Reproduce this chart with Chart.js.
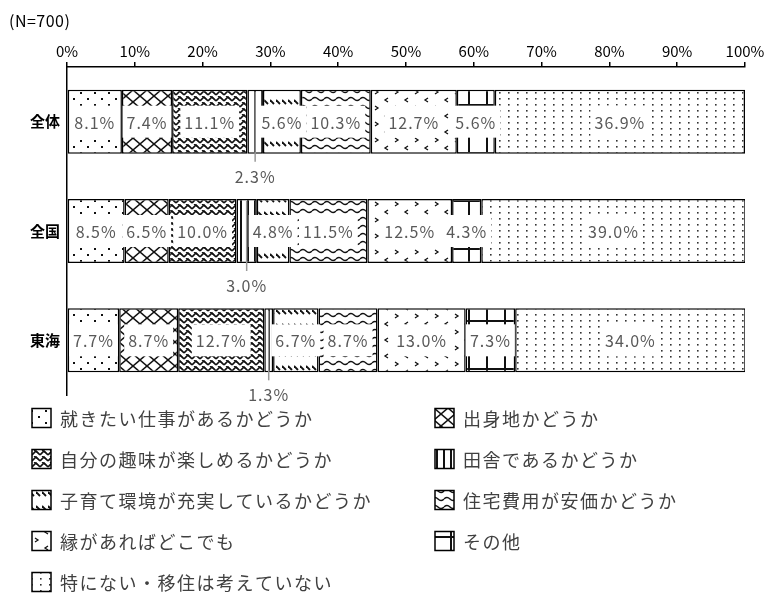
<!DOCTYPE html>
<html>
<head>
<meta charset="utf-8">
<script src="https://cdn.jsdelivr.net/npm/chart.js@4.4.1/dist/chart.umd.min.js"></script>
<style>
  html, body { margin: 0; padding: 0; background: #fff; }
</style>
</head>
<body>
<canvas id="chart" width="764" height="607"></canvas>
<script>
const categories = ["全体", "全国", "東海"];
const seriesNames = [
  "就きたい仕事があるかどうか",
  "出身地かどうか",
  "自分の趣味が楽しめるかどうか",
  "田舎であるかどうか",
  "子育て環境が充実しているかどうか",
  "住宅費用が安価かどうか",
  "縁があればどこでも",
  "その他",
  "特にない・移住は考えていない"
];
const jobValues = [8.1, 8.5, 7.7];
const hometownValues = [7.4, 6.5, 8.7];
const hobbyValues = [11.1, 10.0, 12.7];
const ruralValues = [2.3, 3.0, 1.3];
const childcareValues = [5.6, 4.8, 6.7];
const housingValues = [10.3, 11.5, 8.7];
const anywhereValues = [12.7, 12.5, 13.0];
const otherValues = [5.6, 4.3, 7.3];
const noneValues = [36.9, 39.0, 34.0];
const sampleNote = "(N=700)";

const jpFont = "'Noto Sans CJK JP', sans-serif";

const canvas = document.getElementById("chart");
const mainCtx = canvas.getContext("2d");

// small tile canvases turned into repeating fills
function makePattern(w, h, draw) {
  const c = document.createElement("canvas");
  c.width = w;
  c.height = h;
  const g = c.getContext("2d");
  g.fillStyle = "#fff";
  g.fillRect(0, 0, w, h);
  g.strokeStyle = "#111";
  g.fillStyle = "#111";
  draw(g, w, h);
  return mainCtx.createPattern(c, "repeat");
}

function line(g, pts, lw) {
  g.lineWidth = lw;
  g.beginPath();
  g.moveTo(pts[0][0], pts[0][1]);
  for (let i = 1; i < pts.length; i++) g.lineTo(pts[i][0], pts[i][1]);
  g.stroke();
}

const patterns = [
  // sparse dots
  makePattern(14, 12, g => { g.fillRect(3, 2, 2, 2); g.fillRect(10, 8, 2, 2); }),
  // big X hatch
  makePattern(14, 12, g => {
    line(g, [[0, 0], [14, 12]], 1.5);
    line(g, [[14, 0], [0, 12]], 1.5);
  }),
  // dense zigzag weave
  makePattern(8, 6, g => {
    line(g, [[0, 5], [4, 1], [8, 5]], 1.7);
    line(g, [[2, 0], [6, 3]], 1.2);
  }),
  // vertical lines
  makePattern(7, 7, g => { g.fillRect(2, 0, 2, 7); }),
  // diagonal dashes
  makePattern(6, 14, g => { line(g, [[0, 2], [4, 6]], 1.8); }),
  // waves
  makePattern(12, 8, g => {
    g.lineWidth = 1.4;
    g.beginPath();
    g.moveTo(0, 3);
    g.quadraticCurveTo(3, 0, 6, 3);
    g.quadraticCurveTo(9, 6, 12, 3);
    g.stroke();
  }),
  // scattered chevrons
  makePattern(20, 16, g => {
    line(g, [[8, 2], [5, 4], [8, 6]], 1.3);
    line(g, [[15, 10], [18, 12], [15, 14]], 1.3);
  }),
  // coarse grid
  makePattern(18, 24, g => { g.fillRect(0, 0, 2, 24); g.fillRect(0, 8, 18, 2); }),
  // fine dot grid
  makePattern(9, 6, g => { g.fillStyle = "#333"; g.fillRect(4, 2, 1.6, 1.6); })
];

const seriesData = [jobValues, hometownValues, hobbyValues, ruralValues, childcareValues,
  housingValues, anywhereValues, otherValues, noneValues];

const datasets = seriesData.map((values, i) => ({
  label: seriesNames[i],
  data: values,
  backgroundColor: patterns[i],
  borderColor: "#000",
  borderWidth: 1.5,
  borderSkipped: false,
  barPercentage: 0.585,
  categoryPercentage: 1
}));

const labelPlugin = {
  id: "segmentLabels",
  afterDatasetsDraw(chart) {
    const ctx = chart.ctx;
    ctx.save();
    ctx.font = "16px " + jpFont;
    ctx.letterSpacing = "1px";
    ctx.textAlign = "center";
    ctx.textBaseline = "middle";
    chart.data.datasets.forEach((ds, di) => {
      chart.getDatasetMeta(di).data.forEach((bar, i) => {
        const v = ds.data[i];
        const text = v.toFixed(1) + "%";
        const p = bar.getProps(["x", "y", "base", "height"], true);
        const cx = (p.x + p.base) / 2;
        if (v >= 4) {
          const w = ctx.measureText(text).width + 8;
          ctx.fillStyle = "#fff";
          ctx.fillRect(cx - w / 2, p.y - 16, w, 32);
          ctx.fillStyle = "#595959";
          ctx.fillText(text, cx, p.y + 1);
        } else {
          const top = p.y - p.height / 2;
          const bottom = p.y + p.height / 2;
          ctx.strokeStyle = "#999";
          ctx.lineWidth = 1.5;
          ctx.beginPath();
          ctx.moveTo(cx, top + 2);
          ctx.lineTo(cx, bottom + 8);
          ctx.stroke();
          ctx.fillStyle = "#595959";
          ctx.fillText(text, cx, bottom + 23);
        }
      });
    });
    ctx.restore();
  }
};

const legendPlugin = {
  id: "gridLegend",
  afterDraw(chart) {
    const ctx = chart.ctx;
    ctx.save();
    ctx.font = "18px " + jpFont;
    ctx.letterSpacing = "1.5px";
    ctx.textBaseline = "middle";
    chart.data.datasets.forEach((ds, i) => {
      const sx = i % 2 === 0 ? 32 : 435;
      const sy = 418 + Math.floor(i / 2) * 41;
      ctx.fillStyle = ds.backgroundColor;
      ctx.fillRect(sx, sy - 9.5, 19, 19);
      ctx.strokeStyle = "#000";
      ctx.lineWidth = 1.5;
      ctx.strokeRect(sx, sy - 9.5, 19, 19);
      ctx.fillStyle = "#404040";
      ctx.fillText(ds.label, sx + 28, sy + 1);
    });
    ctx.letterSpacing = "0.5px";
    ctx.font = "16px " + jpFont;
    ctx.fillStyle = "#000";
    ctx.fillText(sampleNote, 9, 21);
    ctx.restore();
  }
};

new Chart(canvas, {
  type: "bar",
  data: { labels: categories, datasets: datasets },
  options: {
    indexAxis: "y",
    responsive: false,
    animation: false,
    layout: { padding: { top: 30, right: 5, bottom: 212, left: 0 } },
    plugins: {
      legend: { display: false },
      tooltip: { enabled: false }
    },
    scales: {
      x: {
        position: "top",
        stacked: true,
        min: 0,
        max: 100,
        ticks: {
          stepSize: 10,
          maxRotation: 0,
          padding: 2,
          color: "#000",
          font: { family: jpFont, size: 15 },
          callback: v => v + "%"
        },
        grid: { drawOnChartArea: false, drawTicks: true, tickLength: 5, color: "#000", lineWidth: 1.5 },
        border: { color: "#000", width: 1.5 },
        afterFit: s => { s.height = 37; s.paddingRight = 19; s.paddingLeft = 0; }
      },
      y: {
        stacked: true,
        ticks: {
          color: "#000",
          padding: 7,
          font: { family: jpFont, size: 15, weight: "bold" }
        },
        grid: { display: false, drawTicks: false },
        border: { color: "#000", width: 1.5 },
        afterFit: s => { s.width = 67; }
      }
    }
  },
  plugins: [labelPlugin, legendPlugin]
});
</script>
</body>
</html>
